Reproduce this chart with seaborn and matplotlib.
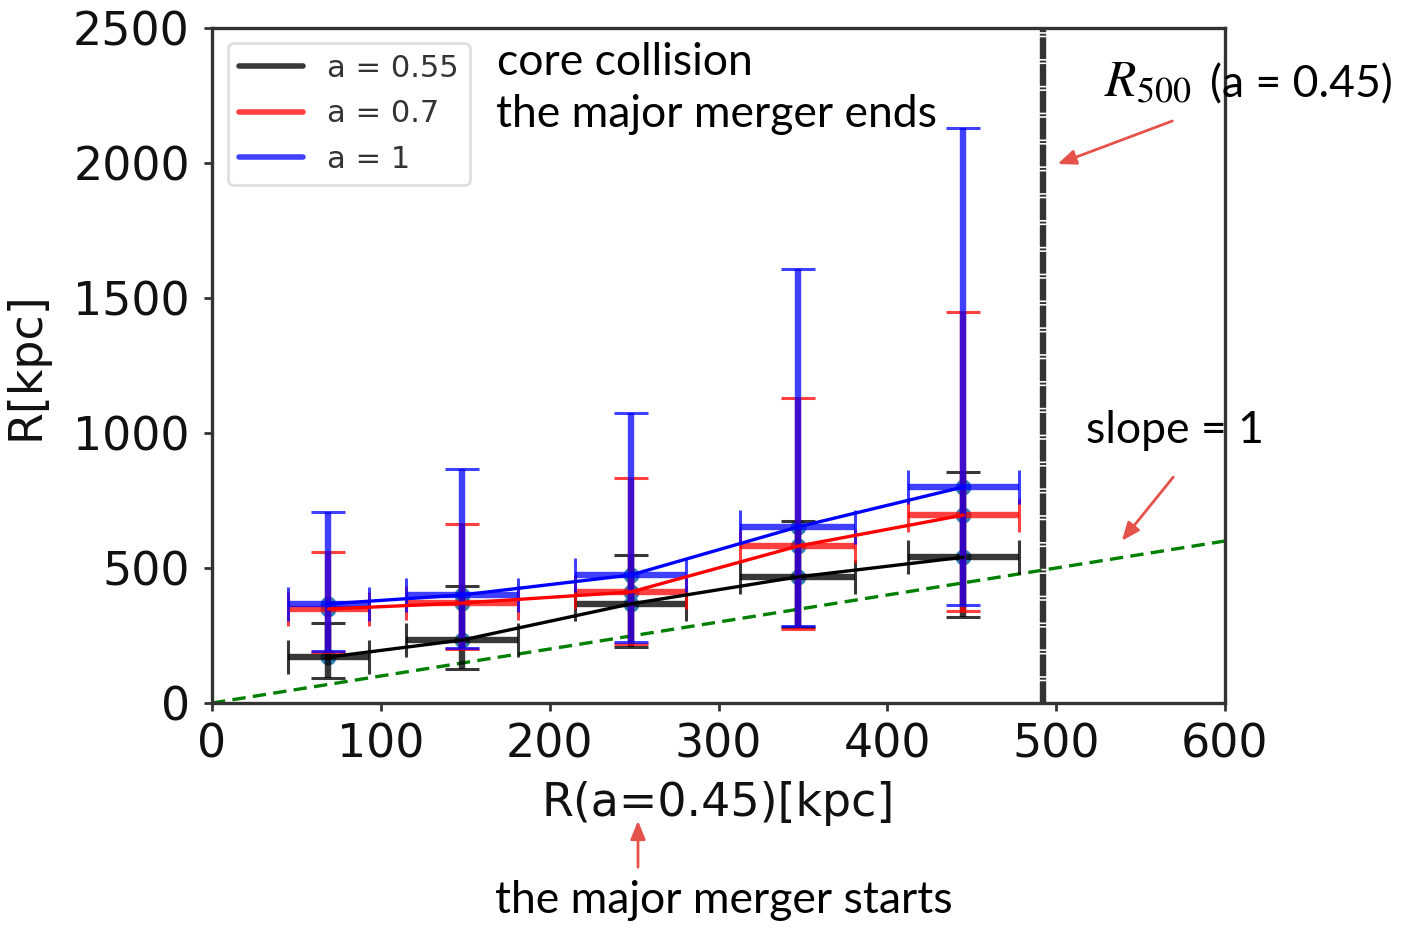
import numpy as np
import pandas as pd
import matplotlib
matplotlib.use("Agg")
import matplotlib.pyplot as plt
import seaborn as sns
from matplotlib.lines import Line2D

# bin centres of R(a=0.45) and half widths
x_mid = [69, 148, 248, 347, 445]
x_half = [24, 33, 33, 34, 33]

series = ["a = 0.55", "a = 0.7", "a = 1"]

# a = 0.55
y_055 = [170, 233, 367, 467, 540]
lo_055 = [93, 126, 207, 281, 319]
hi_055 = [296, 433, 548, 674, 855]

# a = 0.7
y_07 = [348, 370, 411, 581, 696]
lo_07 = [190, 200, 218, 273, 340]
hi_07 = [559, 663, 833, 1130, 1448]

# a = 1
y_1 = [367, 400, 474, 652, 800]
lo_1 = [193, 205, 226, 285, 363]
hi_1 = [707, 867, 1074, 1607, 2130]

r500 = 492
slope_x = [0, 600]

sns.set_style("white")
plt.rcParams["font.family"] = ["DejaVu Sans"]
plt.rcParams["mathtext.fontset"] = "stix"

fig = plt.figure(figsize=(14.03, 9.27), dpi=100)
ax = fig.add_axes([212 / 1403, 1 - 703 / 927, (1225 - 212) / 1403, (703 - 28) / 927])

bar_col = {"a = 0.55": (0, 0, 0, 0.78), "a = 0.7": (1, 0, 0, 0.75), "a = 1": (0, 0, 1, 0.75)}
line_col = {"a = 0.55": "black", "a = 0.7": "red", "a = 1": "blue"}

df = pd.DataFrame({
    "x": x_mid * 3,
    "y": y_055 + y_07 + y_1,
    "lo": lo_055 + lo_07 + lo_1,
    "hi": hi_055 + hi_07 + hi_1,
    "series": np.repeat(series, len(x_mid)),
})

# markers under the bars
sns.scatterplot(data=df, x="x", y="y", color="#1f77b4", s=100, alpha=0.85,
                edgecolor="#1f77b4", linewidth=1.5, ax=ax, zorder=2, legend=False)

for name in series:
    d = df[df["series"] == name]
    yerr = [d["y"] - d["lo"], d["hi"] - d["y"]]
    ax.errorbar(d["x"], d["y"], xerr=x_half, yerr=yerr, fmt="none",
                ecolor=bar_col[name], elinewidth=4.6, capsize=12, capthick=2.2,
                zorder=3)

sns.lineplot(data=df, x="x", y="y", hue="series", palette=line_col,
             linewidth=2.4, legend=False, ax=ax, zorder=4)

# slope = 1 reference and R500
ax.plot(slope_x, slope_x, color="green", linestyle="--", linewidth=2.4,
        dashes=(4, 2.2), zorder=1)
ax.axvline(r500, color="#333333", linewidth=4.6, dashes=(3.4, 0.25, 0.3, 0.25), zorder=5)

ax.set_xlim(0, 600)
ax.set_ylim(0, 2500)
ax.set_xticks(range(0, 601, 100))
ax.set_yticks(range(0, 2501, 500))
ax.tick_params(axis="both", labelsize=33, length=6, width=2, color="#333333",
               direction="out", bottom=True, left=True, labelcolor="#111111")
ax.tick_params(axis="y", pad=10)
ax.tick_params(axis="x", pad=8)
for sp in ax.spines.values():
    sp.set_color("#333333")
    sp.set_linewidth(2.4)
ax.set_xlabel("R(a=0.45)[kpc]", fontsize=33, color="#111111", labelpad=10)
ax.set_ylabel("R[kpc]", fontsize=33, color="#111111", labelpad=18)

handles = [Line2D([0], [0], color=bar_col[n], linewidth=4) for n in series]
leg = ax.legend(handles, series, loc="upper left", fontsize=22, frameon=True,
                handlelength=2.1, borderpad=0.35, labelspacing=0.55,
                borderaxespad=0, bbox_to_anchor=(0.0158, 0.978), fancybox=True)
leg.get_frame().set_edgecolor("#d8d8d8")
leg.get_frame().set_linewidth(2)
for t in leg.get_texts():
    t.set_color("#333333")

# annotations in figure pixels
H = 927
note_font = dict(family="Lato", fontsize=32, color="black")
fig.text(497, H - 75, "core collision", transform=None, va="baseline", **note_font)
fig.text(496, H - 127, "the major merger ends", transform=None, va="baseline", **note_font)
fig.text(495, H - 913, "the major merger starts", transform=None, va="baseline", **note_font)
fig.text(1086, H - 443, "slope = 1", transform=None, va="baseline", **note_font)
fig.text(1104, H - 97, r"$R_{500}$", transform=None, va="baseline",
         fontsize=37, color="black")
fig.text(1210, H - 97, "(a = 0.45)", transform=None, va="baseline", **note_font)

arrow = dict(arrowstyle="-|>,head_length=1.1,head_width=0.45", color="#e5524a", lw=2)
ax.annotate("", xy=(1055, H - 165), xytext=(1175, H - 120), xycoords="figure pixels",
            textcoords="figure pixels", arrowprops=arrow, annotation_clip=False)
ax.annotate("", xy=(1120, H - 543), xytext=(1175, H - 475), xycoords="figure pixels",
            textcoords="figure pixels", arrowprops=arrow, annotation_clip=False)
ax.annotate("", xy=(638, H - 818), xytext=(638, H - 870), xycoords="figure pixels",
            textcoords="figure pixels", arrowprops=arrow, annotation_clip=False)

fig.savefig("out.png", dpi=100)
